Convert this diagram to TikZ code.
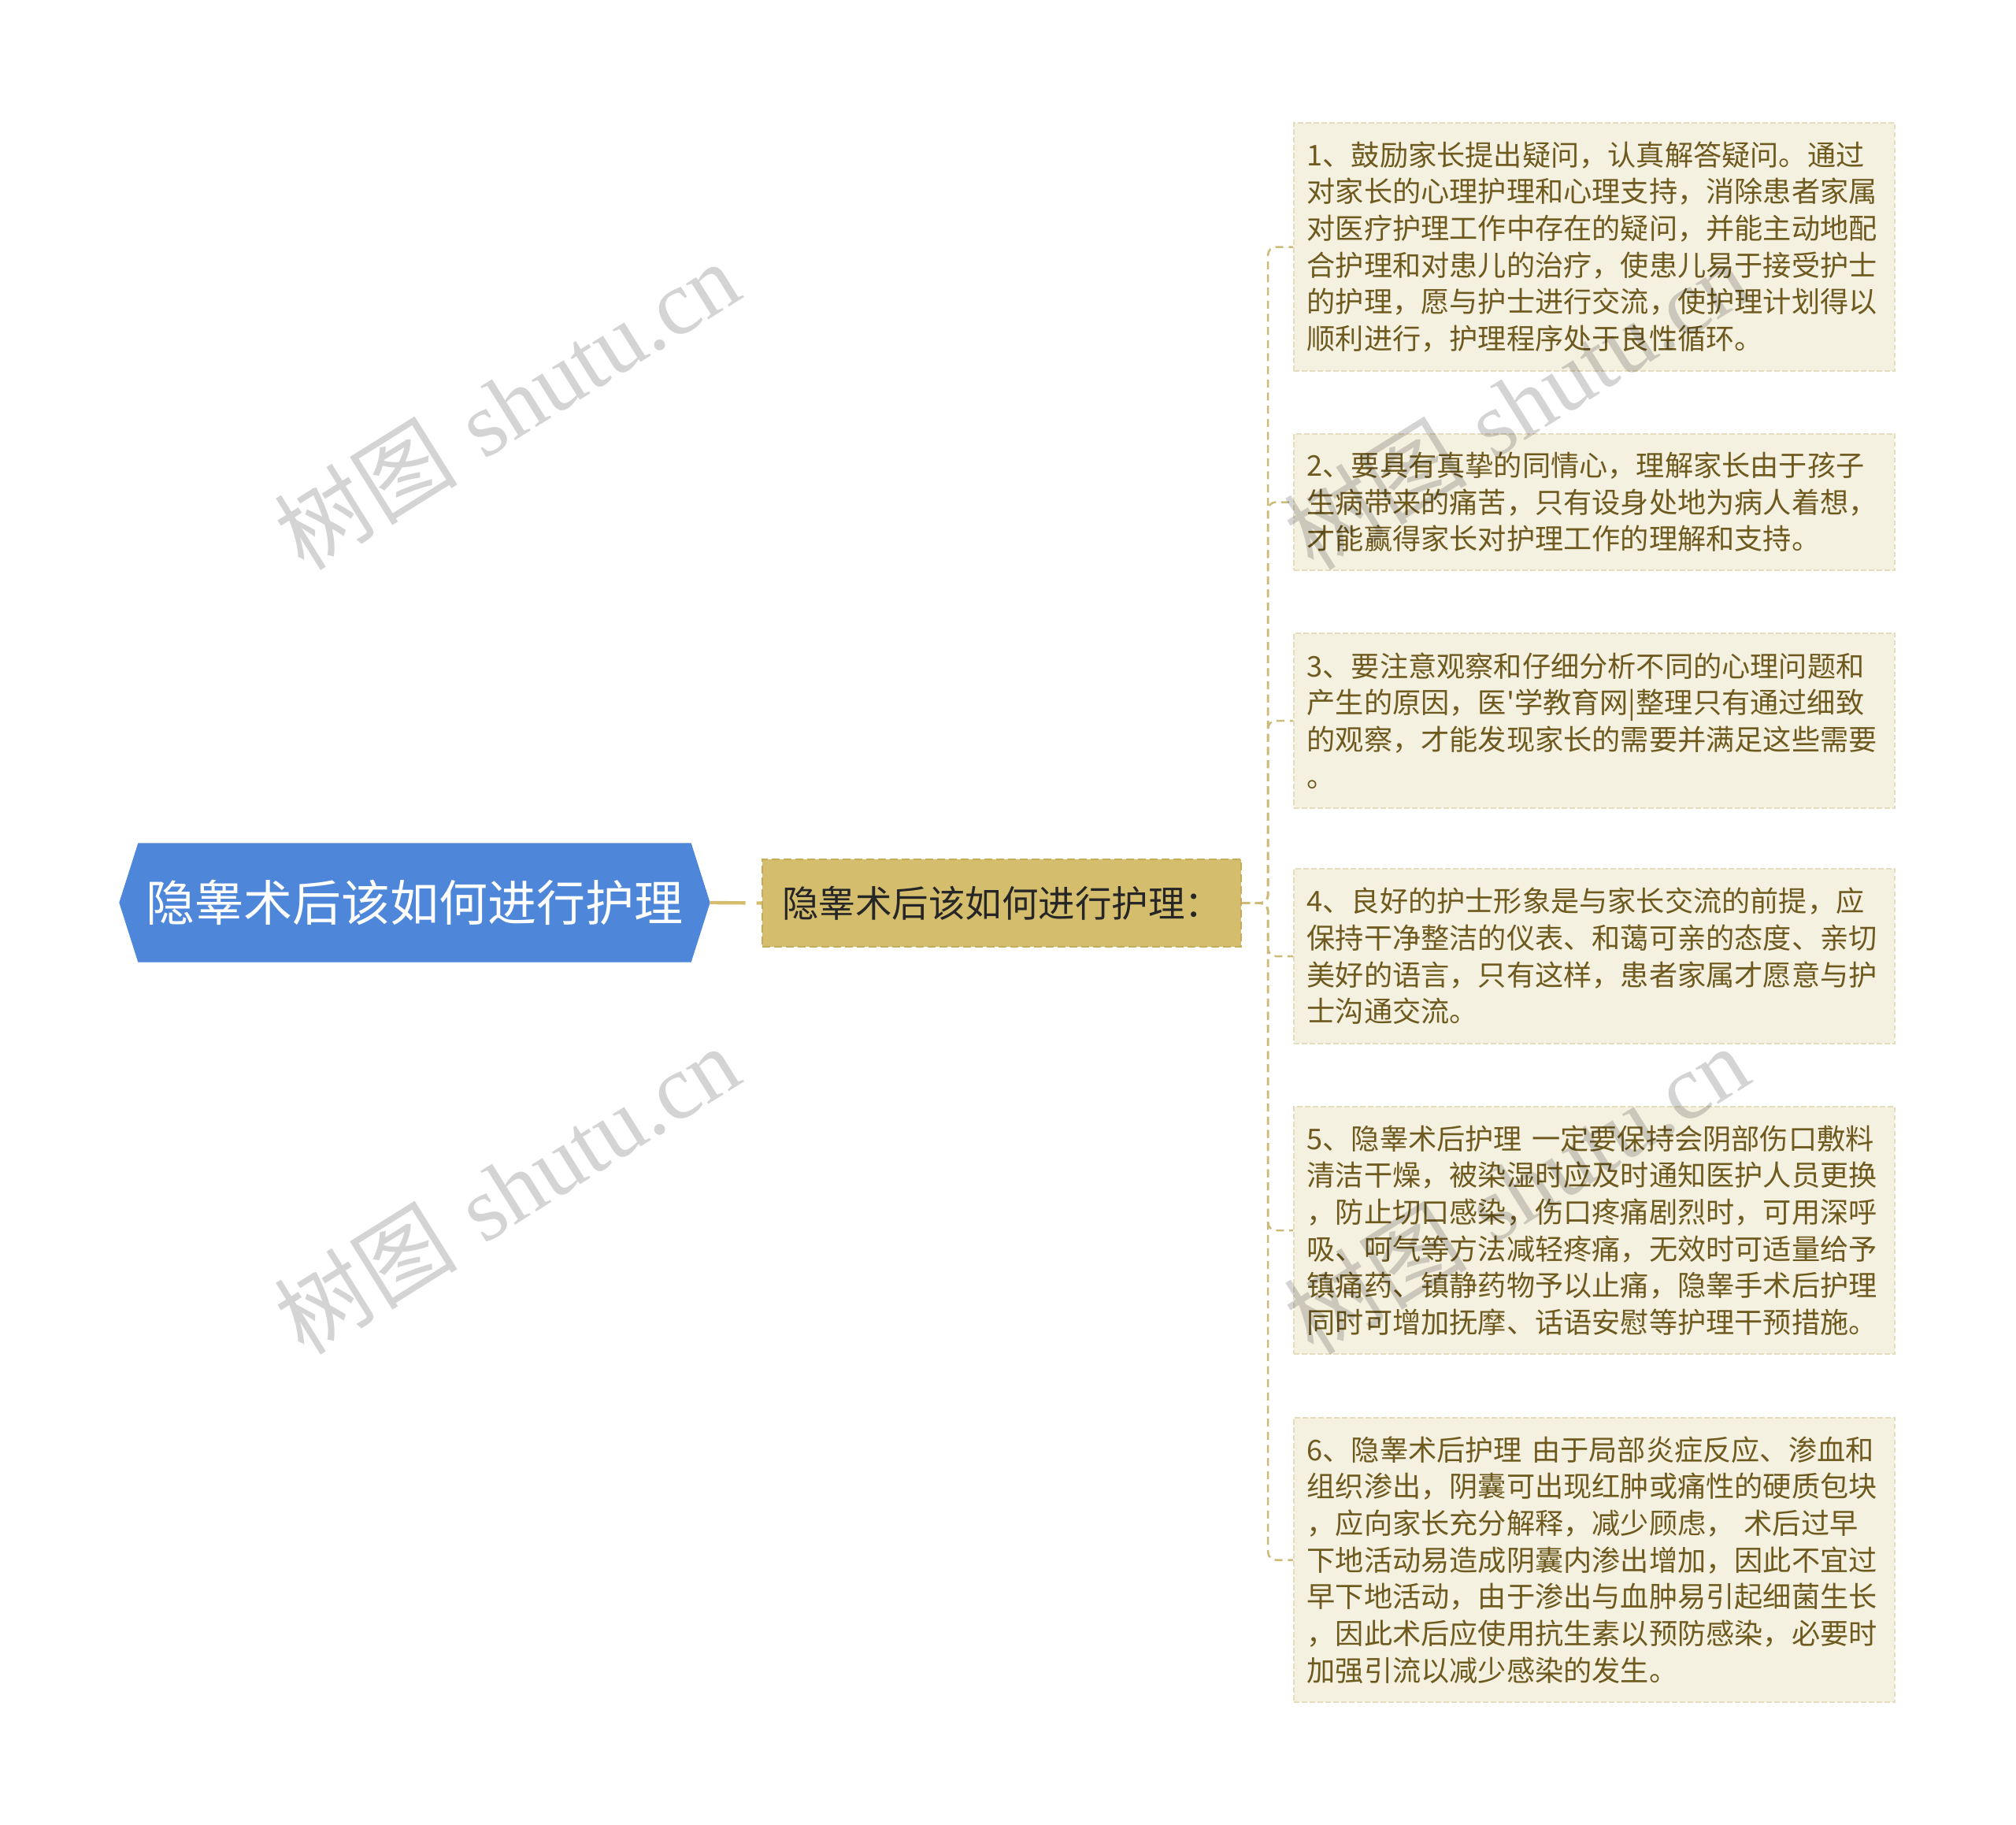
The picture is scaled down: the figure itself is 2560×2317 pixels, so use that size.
\documentclass[tikz,border=0pt]{standalone}
\usepackage{fontspec}
\newfontfamily\cjk{Noto Sans CJK SC}
\newfontfamily\wmserif{Liberation Serif}
\usetikzlibrary{backgrounds}
\definecolor{rootblue}{HTML}{4E86DA}
\definecolor{subgold}{HTML}{D4BE6E}
\definecolor{subedge}{HTML}{C4AC58}
\definecolor{leaffill}{HTML}{F5F1E1}
\definecolor{leafedge}{HTML}{E4DCBC}
\definecolor{leaftext}{HTML}{6E5A1E}
\definecolor{connc}{HTML}{CDBA78}
\begin{document}
\begin{tikzpicture}[x=0.3pt,y=-0.3pt,
  leaf/.style={draw=leafedge, dash pattern=on 2pt off 1pt, line width=0.6pt, fill=leaffill, text=leaftext,
    font=\cjk\fontsize{10.86pt}{14pt}\selectfont, align=left, text width=219pt,
    inner xsep=5pt, inner ysep=0pt, anchor=north west},
  connline/.style={draw=connc, line width=0.75pt, dash pattern=on 3pt off 2pt, rounded corners=3pt},
  wm/.style={text=black, text opacity=0.17, font=\fontsize{35pt}{40pt}\selectfont, rotate=32, inner sep=0pt}
]
\useasboundingbox (0,0) rectangle (2560,2317);

% root
\node[font=\cjk\fontsize{18.6pt}{22pt}\selectfont, text=white, minimum width=224.7pt,
  minimum height=45pt, inner sep=0pt] (root) at (526.5,1146) {隐睾术后该如何进行护理};
\begin{scope}[on background layer]
\fill[white] (0,0) rectangle (2560,2317);
\fill[rootblue] (root.west) -- ([xshift=7.2pt]root.north west) -- ([xshift=-7.2pt]root.north east)
  -- (root.east) -- ([xshift=-7.2pt]root.south east) -- ([xshift=7.2pt]root.south west) -- cycle;
\end{scope}

% sub
\node[fill=subgold, draw=subedge, dash pattern=on 3pt off 1.5pt, line width=0.7pt,
  font=\cjk\fontsize{13.95pt}{16pt}\selectfont, text=black!85,
  minimum width=182.4pt, minimum height=33.3pt, inner sep=0pt] (sub) at (1272,1146.5) {隐睾术后该如何进行护理：};

\draw[subgold, line width=1.3pt, dash pattern=on 13.5pt off 4.2pt] (root.east) -- (sub.west);

% leaves
\node[leaf, minimum height=94.5pt] (c1) at (1642,155) {1、鼓励家长提出疑问，认真解答疑问。通过\\对家长的心理护理和心理支持，消除患者家属\\对医疗护理工作中存在的疑问，并能主动地配\\合护理和对患儿的治疗，使患儿易于接受护士\\的护理，愿与护士进行交流，使护理计划得以\\顺利进行，护理程序处于良性循环。};
\node[leaf, minimum height=51.9pt] (c2) at (1642,550) {2、要具有真挚的同情心，理解家长由于孩子\\生病带来的痛苦，只有设身处地为病人着想，\\才能赢得家长对护理工作的理解和支持。};
\node[leaf, minimum height=66.6pt] (c3) at (1642,803) {3、要注意观察和仔细分析不同的心理问题和\\产生的原因，医'学教育网|整理只有通过细致\\的观察，才能发现家长的需要并满足这些需要\\。};
\node[leaf, minimum height=66.6pt] (c4) at (1642,1102) {4、良好的护士形象是与家长交流的前提，应\\保持干净整洁的仪表、和蔼可亲的态度、亲切\\美好的语言，只有这样，患者家属才愿意与护\\士沟通交流。};
\node[leaf, minimum height=94.2pt] (c5) at (1642,1404) {5、隐睾术后护理 一定要保持会阴部伤口敷料\\清洁干燥，被染湿时应及时通知医护人员更换\\，防止切口感染，伤口疼痛剧烈时，可用深呼\\吸、呵气等方法减轻疼痛，无效时可适量给予\\镇痛药、镇静药物予以止痛，隐睾手术后护理\\同时可增加抚摩、话语安慰等护理干预措施。};
\node[leaf, minimum height=108.3pt] (c6) at (1642,1799) {6、隐睾术后护理 由于局部炎症反应、渗血和\\组织渗出，阴囊可出现红肿或痛性的硬质包块\\，应向家长充分解释，减少顾虑， 术后过早\\下地活动易造成阴囊内渗出增加，因此不宜过\\早下地活动，由于渗出与血肿易引起细菌生长\\，因此术后应使用抗生素以预防感染，必要时\\加强引流以减少感染的发生。};

\foreach \c in {c1,c2,c3,c4,c5,c6}
  \draw[connline] (sub.east) -- ++(33,0) |- (\c.west);

% watermarks
\node[wm] (w1) at (643,514) {{\cjk 树图} {\wmserif shutu.cn}};
\node[wm] (w2) at (643,1510) {{\cjk 树图} {\wmserif shutu.cn}};
\node[wm] (w3) at (1925,514) {{\cjk 树图} {\wmserif shutu.cn}};
\node[wm] (w4) at (1925,1510) {{\cjk 树图} {\wmserif shutu.cn}};
\end{tikzpicture}
\end{document}
